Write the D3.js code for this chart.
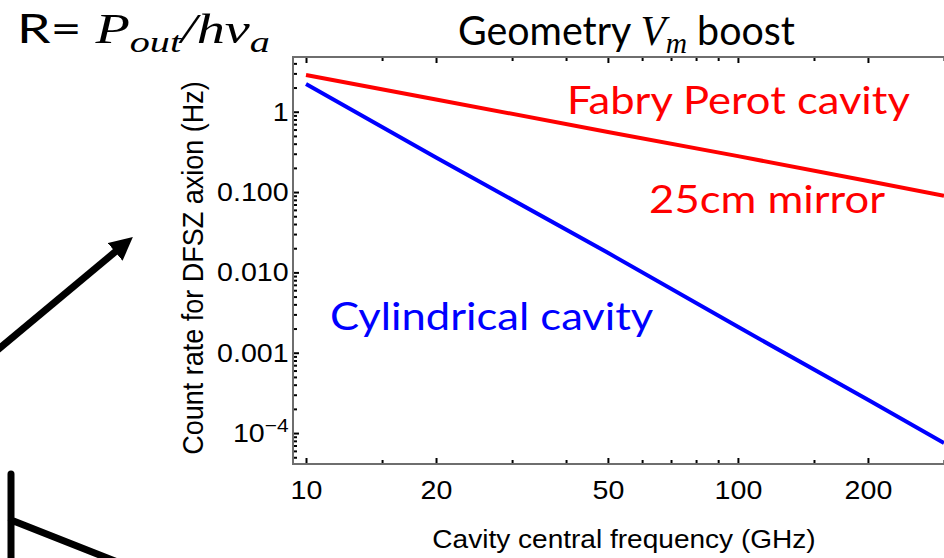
<!DOCTYPE html>
<html>
<head>
<meta charset="utf-8">
<script src="https://cdn.jsdelivr.net/npm/d3@7"></script>
<style>
  body { margin: 0; background: #fff; }
  svg { display: block; }
</style>
</head>
<body>
<div id="chart"></div>
<script>
// values
const freqs = [10, 20, 50, 100, 200, 300]
const fabryPerot = [2.86, 1.42, 0.56, 0.28, 0.137, 0.090]
const cylindrical = [2.21, 0.27, 0.0175, 0.0021, 0.00026, 0.000075]
const xMajorTicks = [10, 20, 50, 100, 200]
const xMinorTicks = [15, 30, 40, 60, 70, 80, 90, 150, 300]
const yMajorTicks = [1, 0.1, 0.01, 0.001, 0.0001]
const yTickText = ["1", "0.100", "0.010", "0.001", "10^-4"]

const W = 944, H = 558
const SX = 1.1   // the source picture is a little stretched sideways, so is its text
const sansFont = "'Liberation Sans', Arial, sans-serif"
const calibriLike = "Lato, 'Open Sans', sans-serif"
const mathFont = "'Liberation Serif', 'DejaVu Serif', serif"

const svg = d3.select("#chart").append("svg")
    .attr("width", W)
    .attr("height", H)

const plot = { left: 293, right: 944, top: 57, bottom: 464 }

const x = d3.scaleLog().domain([9.33, 300]).range([plot.left, plot.right])
const y = d3.scaleLog().domain([4.12e-5, 4.8]).range([plot.bottom, plot.top])

// minor y ticks: 2..9 in each decade
const yMinorTicks = []
for (let d = -5; d <= 0; d++) {
    for (let k = 2; k <= 9; k++) {
        const v = k * Math.pow(10, d)
        if (v > y.domain()[0] && v < y.domain()[1]) yMinorTicks.push(v)
    }
}

function styleAxis(g) {
    g.select(".domain").remove()
    g.selectAll(".tick line").attr("stroke", "#000").attr("stroke-width", 2)
}

// minor ticks first
svg.append("g").attr("transform", `translate(0,${plot.bottom})`)
    .call(d3.axisBottom(x).tickValues(xMinorTicks).tickSize(-4).tickFormat(""))
    .call(styleAxis)
svg.append("g").attr("transform", `translate(0,${plot.top})`)
    .call(d3.axisTop(x).tickValues(xMinorTicks).tickSize(-4).tickFormat(""))
    .call(styleAxis)
svg.append("g").attr("transform", `translate(${plot.left},0)`)
    .call(d3.axisLeft(y).tickValues(yMinorTicks).tickSize(-4).tickFormat(""))
    .call(styleAxis)

// major ticks with labels
const xAxis = svg.append("g").attr("transform", `translate(0,${plot.bottom})`)
    .call(d3.axisBottom(x).tickValues(xMajorTicks).tickSize(-6).tickPadding(17).tickFormat(d3.format("d")))
    .call(styleAxis)
xAxis.selectAll(".tick text")
    .attr("font-family", sansFont)
    .attr("font-size", 26)
    .attr("fill", "#000")
    .attr("transform", `scale(${SX},1)`)

svg.append("g").attr("transform", `translate(0,${plot.top})`)
    .call(d3.axisTop(x).tickValues(xMajorTicks).tickSize(-6).tickFormat(""))
    .call(styleAxis)

const yAxis = svg.append("g").attr("transform", `translate(${plot.left},0)`)
    .call(d3.axisLeft(y).tickValues(yMajorTicks).tickSize(-6).tickPadding(4)
        .tickFormat((d, i) => yTickText[i]))
    .call(styleAxis)
yAxis.selectAll(".tick text")
    .attr("font-family", sansFont)
    .attr("font-size", 26)
    .attr("fill", "#000")
    .attr("transform", `scale(${SX},1)`)
    .each(function (d, i) {
        const t = d3.select(this)
        if (yTickText[i].includes("^")) {
            const [base, exp] = yTickText[i].split("^")
            t.text("")
            t.append("tspan").text(base)
            t.append("tspan").attr("font-size", 19).attr("dy", "-0.5em").text(exp.replace("-", "\u2212"))
        }
    })

// frame (gray)
svg.append("path")
    .attr("d", `M${plot.right + 5},${plot.top}H${plot.left}V${plot.bottom}H${plot.right + 5}`)
    .attr("fill", "none")
    .attr("stroke", "#6e6e6e")
    .attr("stroke-width", 2)

// curves
svg.append("clipPath").attr("id", "clip")
    .append("rect")
    .attr("x", plot.left).attr("y", plot.top)
    .attr("width", plot.right - plot.left + 10).attr("height", plot.bottom - plot.top)

const line = d3.line().x(d => x(d[0])).y(d => y(d[1]))
const series = [
    { name: "Fabry Perot", values: fabryPerot, color: "#ff0000" },
    { name: "Cylindrical", values: cylindrical, color: "#0000ff" }
]
svg.append("g").attr("clip-path", "url(#clip)")
    .selectAll("path")
    .data(series)
    .enter()
    .append("path")
    .attr("d", s => line(freqs.map((f, i) => [f, s.values[i]])))
    .attr("fill", "none")
    .attr("stroke", s => s.color)
    .attr("stroke-width", 4)

// axis titles
svg.append("text")
    .attr("transform", `translate(203,268) scale(${SX},1) rotate(-90)`)
    .attr("text-anchor", "middle")
    .attr("font-family", sansFont)
    .attr("font-size", 27)
    .text("Count rate for DFSZ axion (Hz)")

svg.append("text")
    .attr("transform", `translate(624,548) scale(${SX},1)`)
    .attr("text-anchor", "middle")
    .attr("font-family", sansFont)
    .attr("font-size", 25.5)
    .text("Cavity central frequency (GHz)")

// text squeezed/stretched to a target width, anchored at start
function fitText(px, py, targetW, build) {
    const g = svg.append("g")
    const t = g.append("text")
    build(t)
    const w = t.node().getComputedTextLength()
    const sx = targetW / w
    g.attr("transform", `translate(${px},${py}) scale(${sx},1)`)
    return sx
}

// annotations
const annoSX = fitText(567, 114, 343, t => t
    .attr("font-family", calibriLike).attr("font-size", 39).attr("fill", "#ff0000")
    .text("Fabry Perot cavity"))

svg.append("text")
    .attr("transform", `translate(885,213) scale(${annoSX},1)`)
    .attr("text-anchor", "end")
    .attr("font-family", calibriLike).attr("font-size", 39).attr("fill", "#ff0000")
    .text("25cm mirror")

svg.append("text")
    .attr("transform", `translate(330,330) scale(${annoSX},1)`)
    .attr("font-family", calibriLike).attr("font-size", 39).attr("fill", "#0000ff")
    .text("Cylindrical cavity")

// title with math
fitText(458, 45, 337, t => {
    t.attr("font-family", calibriLike).attr("font-size", 40).attr("fill", "#000")
    t.append("tspan").text("Geometry ")
    t.append("tspan").attr("font-family", mathFont).attr("font-style", "italic").attr("font-size", 42).text("V")
    t.append("tspan").attr("font-family", mathFont).attr("font-style", "italic").attr("font-size", 30).attr("dy", 8).text("m")
    t.append("tspan").attr("dy", -8).text(" boost")
})

// formula top-left
fitText(17, 43, 253, t => {
    t.attr("font-family", calibriLike).attr("font-size", 40).attr("fill", "#000")
    t.append("tspan").text("R= ")
    t.append("tspan").attr("font-family", mathFont).attr("font-style", "italic").attr("font-size", 42).text("P")
    t.append("tspan").attr("font-family", mathFont).attr("font-style", "italic").attr("font-size", 30).attr("dy", 9).text("out")
    t.append("tspan").attr("font-family", mathFont).attr("font-style", "italic").attr("font-size", 42).attr("dy", -9).text("/h\u03bd")
    t.append("tspan").attr("font-family", mathFont).attr("font-style", "italic").attr("font-size", 30).attr("dy", 9).text("a")
})

// leftover slide drawings on the left edge
const defs = svg.append("defs")
defs.append("marker")
    .attr("id", "head")
    .attr("viewBox", "0 0 10 10")
    .attr("refX", 5).attr("refY", 5)
    .attr("markerWidth", 3.3).attr("markerHeight", 3.3)
    .attr("orient", "auto")
    .append("path").attr("d", "M0,0L10,5L0,10z").attr("fill", "#000")

svg.append("line")
    .attr("x1", -5).attr("y1", 352).attr("x2", 124).attr("y2", 244.5)
    .attr("stroke", "#000").attr("stroke-width", 7)
    .attr("marker-end", "url(#head)")

svg.append("path")
    .attr("d", "M11,474V565M11,520L125,565")
    .attr("fill", "none")
    .attr("stroke", "#000").attr("stroke-width", 7)
    .attr("stroke-linecap", "round")
</script>
</body>
</html>
